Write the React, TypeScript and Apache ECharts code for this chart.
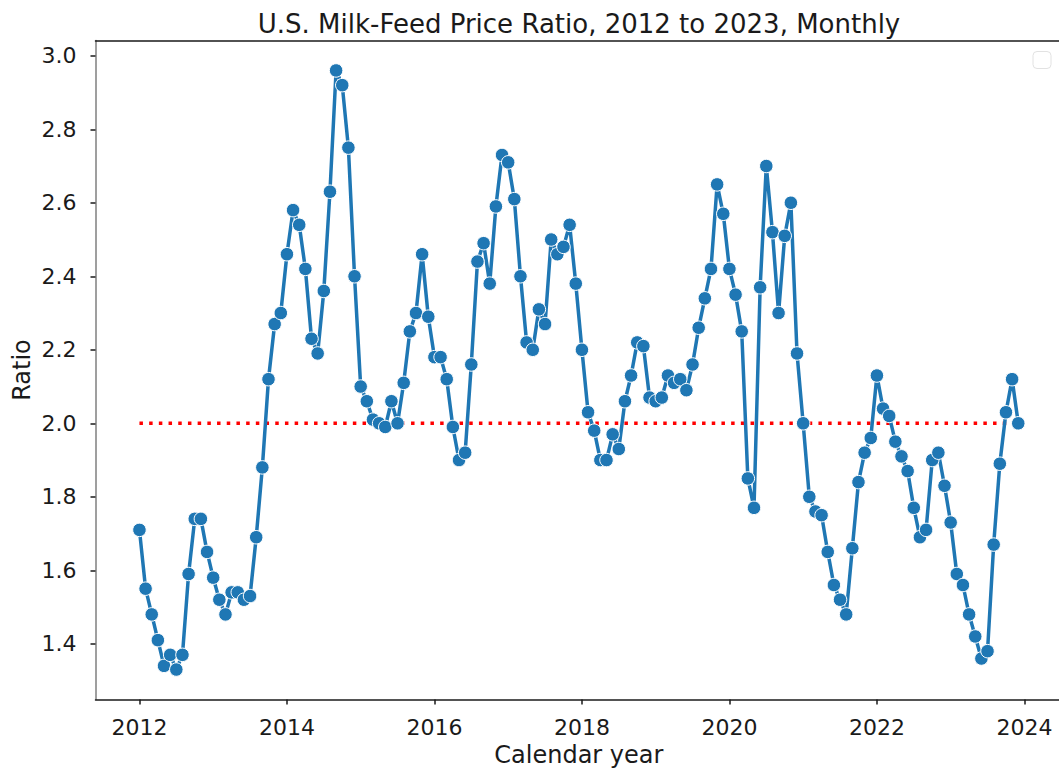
import React, { useEffect, useRef } from "react";
import * as echarts from "echarts";

// Monthly milk-feed price ratio, Jan 2012 .. Dec 2023
const startYear = 2012;
const ratio2012 = [1.71, 1.55, 1.48, 1.41, 1.34, 1.37, 1.33, 1.37, 1.59, 1.74, 1.74, 1.65];
const ratio2013 = [1.58, 1.52, 1.48, 1.54, 1.54, 1.52, 1.53, 1.69, 1.88, 2.12, 2.27, 2.30];
const ratio2014 = [2.46, 2.58, 2.54, 2.42, 2.23, 2.19, 2.36, 2.63, 2.96, 2.92, 2.75, 2.40];
const ratio2015 = [2.10, 2.06, 2.01, 2.00, 1.99, 2.06, 2.00, 2.11, 2.25, 2.30, 2.46, 2.29];
const ratio2016 = [2.18, 2.18, 2.12, 1.99, 1.90, 1.92, 2.16, 2.44, 2.49, 2.38, 2.59, 2.73];
const ratio2017 = [2.71, 2.61, 2.40, 2.22, 2.20, 2.31, 2.27, 2.50, 2.46, 2.48, 2.54, 2.38];
const ratio2018 = [2.20, 2.03, 1.98, 1.90, 1.90, 1.97, 1.93, 2.06, 2.13, 2.22, 2.21, 2.07];
const ratio2019 = [2.06, 2.07, 2.13, 2.11, 2.12, 2.09, 2.16, 2.26, 2.34, 2.42, 2.65, 2.57];
const ratio2020 = [2.42, 2.35, 2.25, 1.85, 1.77, 2.37, 2.70, 2.52, 2.30, 2.51, 2.60, 2.19];
const ratio2021 = [2.00, 1.80, 1.76, 1.75, 1.65, 1.56, 1.52, 1.48, 1.66, 1.84, 1.92, 1.96];
const ratio2022 = [2.13, 2.04, 2.02, 1.95, 1.91, 1.87, 1.77, 1.69, 1.71, 1.90, 1.92, 1.83];
const ratio2023 = [1.73, 1.59, 1.56, 1.48, 1.42, 1.36, 1.38, 1.67, 1.89, 2.03, 2.12, 2.00];

const allRatios = [
  ratio2012, ratio2013, ratio2014, ratio2015, ratio2016, ratio2017,
  ratio2018, ratio2019, ratio2020, ratio2021, ratio2022, ratio2023,
].flat();

const referenceLevel = 2.0;
const xTickYears = [2012, 2014, 2016, 2018, 2020, 2022, 2024];
const yTickValues = [1.4, 1.6, 1.8, 2.0, 2.2, 2.4, 2.6, 2.8, 3.0];

const FONT = "DejaVu Sans";

export default function App() {
  const ref = useRef<HTMLDivElement>(null);

  useEffect(() => {
    if (!ref.current) return;
    const chart = echarts.init(ref.current, null, { renderer: "svg" });

    const lineData = allRatios.map((v, i) => [startYear + i / 12, v]);
    const lastX = startYear + (allRatios.length - 1) / 12;
    const xMin = startYear - 0.05 * (lastX - startYear);
    const xMax = lastX + 0.05 * (lastX - startYear);
    const yLo = Math.min(...allRatios);
    const yHi = Math.max(...allRatios);
    const yMin = yLo - 0.05 * (yHi - yLo);
    const yMax = yHi + 0.05 * (yHi - yLo);

    chart.setOption({
      animation: false,
      backgroundColor: "#ffffff",
      title: {
        text: "U.S. Milk-Feed Price Ratio, 2012 to 2023, Monthly",
        left: 574,
        textAlign: "center",
        top: 6,
        textStyle: { fontFamily: FONT, fontSize: 26, fontWeight: "normal", color: "#1a1a1a" },
      },
      grid: { left: 95.5, top: 40.5, width: 966.7, height: 659, outerBoundsMode: "none", containLabel: false },
      xAxis: [
        {
          type: "value",
          min: xMin,
          max: xMax,
          name: "Calendar year",
          nameLocation: "middle",
          nameGap: 42,
          nameTextStyle: { fontFamily: FONT, fontSize: 24, color: "#1a1a1a" },
          axisLine: { show: true, onZero: false, lineStyle: { color: "#1a1a1a", width: 1.5 } },
          axisTick: { show: true, length: 5, customValues: xTickYears, lineStyle: { color: "#1a1a1a", width: 1.5 } },
          axisLabel: {
            customValues: xTickYears,
            margin: 17,
            fontFamily: FONT,
            fontSize: 22,
            color: "#1a1a1a",
            formatter: (v: number) => String(Math.round(v)),
          },
          splitLine: { show: false },
        },
        {
          type: "value",
          position: "top",
          min: xMin,
          max: xMax,
          axisLine: { show: true, onZero: false, lineStyle: { color: "#1a1a1a", width: 1.5 } },
          axisTick: { show: false },
          axisLabel: { show: false },
          splitLine: { show: false },
        },
      ],
      yAxis: {
        type: "value",
        min: yMin,
        max: yMax,
        name: "Ratio",
        nameLocation: "middle",
        nameGap: 62,
        nameMoveOverlap: false,
        nameRotate: 90,
        nameTextStyle: { fontFamily: FONT, fontSize: 24, color: "#1a1a1a" },
        axisLine: { show: true, onZero: false, lineStyle: { color: "#7f7f7f", width: 1.5 } },
        axisTick: { show: true, length: 5, customValues: yTickValues, lineStyle: { color: "#1a1a1a", width: 1.5 } },
        axisLabel: {
          customValues: yTickValues,
          margin: 19,
          fontFamily: FONT,
          fontSize: 22,
          color: "#1a1a1a",
          formatter: (v: number) => v.toFixed(1),
        },
        splitLine: { show: false },
      },
      graphic: [
        {
          type: "rect",
          shape: { x: 1033, y: 51.5, width: 18, height: 17, r: 4 },
          style: { fill: "#ffffff", stroke: "#e2e2e2", lineWidth: 1 },
          z: 100,
        },
      ],
      series: [
        {
          type: "line",
          name: "ratio",
          data: lineData,
          xAxisIndex: 0,
          symbol: "circle",
          symbolSize: 13.5,
          lineStyle: { color: "#1f77b4", width: 3.5 },
          itemStyle: { color: "#1f77b4", borderColor: "#ffffff", borderWidth: 1 },
          z: 3,
        },
        {
          type: "line",
          name: "level",
          data: [
            [startYear, referenceLevel],
            [lastX, referenceLevel],
          ],
          xAxisIndex: 0,
          symbol: "none",
          lineStyle: { color: "#ff0000", width: 3.5, type: [3.5, 6.2] },
          z: 2,
        },
      ],
    });

    return () => chart.dispose();
  }, []);

  return (
    <div
      ref={ref}
      style={{ position: "fixed", left: 0, top: 0, width: 1059, height: 768, background: "#fff" }}
    />
  );
}
